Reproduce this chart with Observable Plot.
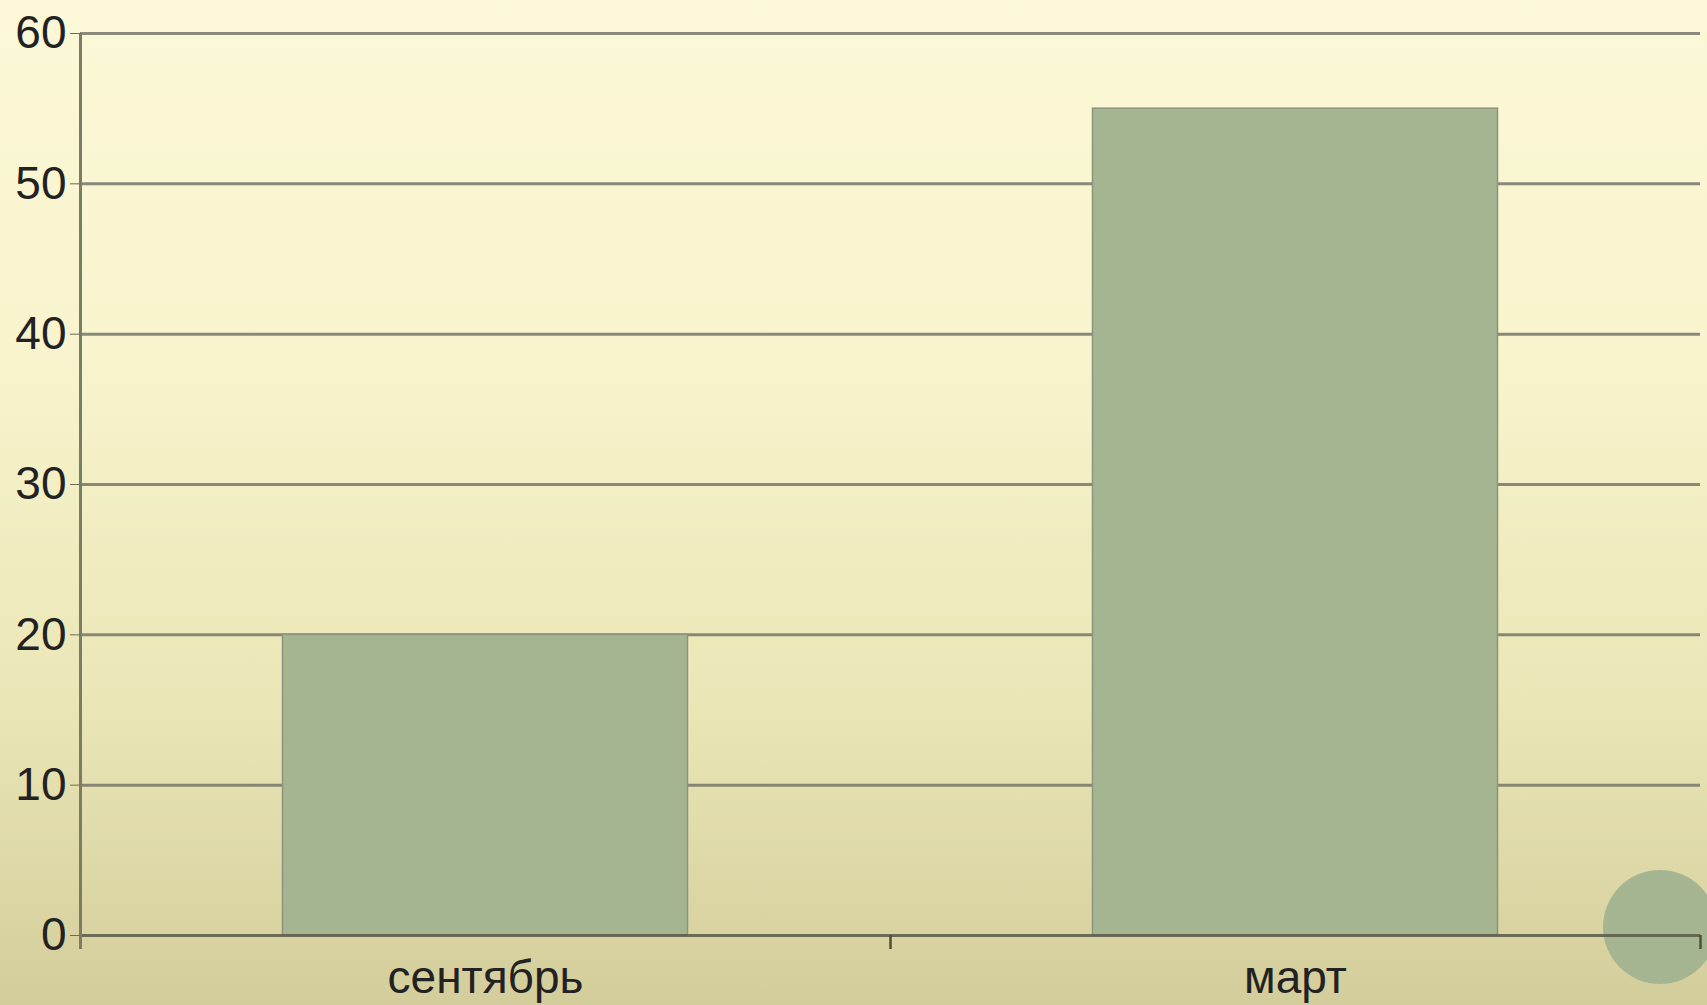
<!DOCTYPE html>
<html>
<head>
<meta charset="utf-8">
<script src="https://cdn.jsdelivr.net/npm/d3@7"></script>
<script src="https://cdn.jsdelivr.net/npm/@observablehq/plot@0.6"></script>
<style>
  html, body { margin: 0; padding: 0; width: 1707px; height: 1005px; overflow: hidden; }
  body { background: linear-gradient(to bottom, #fbf8d8 0%, #f8f4cd 35%, #ebe6b6 70%, #d3cd9b 100%); position: relative; }
  #deco { position: absolute; left: 1603px; top: 870px; width: 114px; height: 114px; border-radius: 50%; background: #a5b592; z-index: 0; }
  #chart { position: absolute; left: 0; top: 0; z-index: 1; }
  #chart svg { background: transparent; display: block; }
</style>
</head>
<body>
<div id="deco"></div>
<div id="chart"></div>
<script>
const categories = ["сентябрь", "март"];
const values = [20, 55];
const yTicks = [0, 10, 20, 30, 40, 50, 60];
const catBoundaries = [1, 2];

const data = categories.map((c, i) => ({cat: c, idx: i, value: values[i]}));

const chart = Plot.plot({
  width: 1707,
  height: 1005,
  marginLeft: 80,
  marginRight: 7,
  marginTop: 33,
  marginBottom: 70,
  style: {background: "transparent", fontFamily: "'Liberation Sans', Arial, sans-serif", fontSize: "46px", color: "#222"},
  x: {domain: [0, categories.length]},
  y: {domain: [0, 60]},
  marks: [
    Plot.ruleY(yTicks.filter(d => d > 0), {stroke: "#75756a", strokeWidth: 3, strokeOpacity: 0.85}),
    Plot.rectY(data, {x1: d => d.idx + 0.25, x2: d => d.idx + 0.75, y1: 0, y2: "value", fill: "#a5b491", stroke: "#8c957c", strokeWidth: 1.5}),
    Plot.ruleY([0], {stroke: "#5e5e4c", strokeWidth: 3, strokeOpacity: 0.9}),
    Plot.ruleX(catBoundaries, {y1: -0.93, y2: 0, stroke: "#4e4e3e", strokeWidth: 2.5}),
    Plot.ruleX([0], {y1: -0.93, y2: 60, stroke: "#7c7c66", strokeWidth: 3}),
    Plot.axisY({ticks: yTicks, tickSize: 10, tickPadding: 4, stroke: "#6a6a56", fontSize: 46, label: null, tickFormat: d => String(d)}),
    Plot.axisX({ticks: categories.map((c, i) => i + 0.5), tickFormat: t => categories[Math.floor(t)], tickSize: 0, tickPadding: 25, fontSize: 46, label: null})
  ]
});
document.getElementById("chart").appendChild(chart);
</script>
</body>
</html>
